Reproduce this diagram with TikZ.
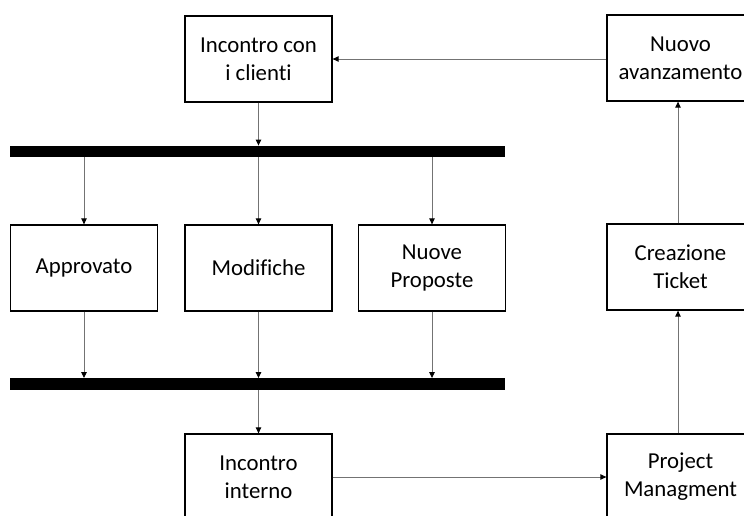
\documentclass[tikz,border=0pt]{standalone}
\usepackage{fontspec}
\setmainfont[Ligatures={NoCommon}]{Carlito}
\usetikzlibrary{arrows.meta}
\begin{document}
\begin{tikzpicture}[x=1pt,y=-1pt,
  box/.style={draw=black,line width=1.3pt,fill=white,minimum width=147pt,minimum height=86pt,
    align=center,inner sep=0pt,font=\fontsize{22.8}{28}\selectfont},
  bar/.style={fill=black,draw=none,minimum width=495pt,minimum height=11.5pt,inner sep=0pt},
  flow/.style={draw=black!55,line width=0.9pt,-{Triangle[length=6pt,width=5.5pt,fill=black,color=black]}}
]
\useasboundingbox (0,0) rectangle (744,515);
\clip (0,0) rectangle (744,515);

% meeting with the clients and the first sync bar
\node[box] (icc) at (258.5,59) {Incontro con\\i clienti};
\node[bar] (bar1) at (257.5,151.5) {};

% the three outcomes
\node[box] (appr) at (84,268) {Approvato};
\node[box] (modi) at (258.5,268) {Modifiche};
\node[box] (nuove) at (432,268) {Nuove\\Proposte};

% second sync bar
\node[bar] (bar2) at (257.5,384) {};

% internal follow-up
\node[box] (iint) at (258.5,477) {Incontro\\interno};
\node[box] (pm) at (680.5,477) {Project\\Managment};
\node[box] (ticket) at (680.5,267) {Creazione\\Ticket};
\node[box] (nuovo) at (680.5,58) {Nuovo\\avanzamento};

% connectors
\draw[flow] (icc.south) -- (icc.south |- bar1.north);
\draw[flow] (appr.north |- bar1.south) -- (appr.north);
\draw[flow] (modi.north |- bar1.south) -- (modi.north);
\draw[flow] (nuove.north |- bar1.south) -- (nuove.north);
\draw[flow] (appr.south) -- (appr.south |- bar2.north);
\draw[flow] (modi.south) -- (modi.south |- bar2.north);
\draw[flow] (nuove.south) -- (nuove.south |- bar2.north);
\draw[flow] (iint.north |- bar2.south) -- (iint.north);
\draw[flow] (iint.east) -- (pm.west);
\draw[flow] ([xshift=-2.5pt]pm.north) -- ([xshift=-2.5pt]ticket.south);
\draw[flow] ([xshift=-2.5pt]ticket.north) -- ([xshift=-2.5pt]nuovo.south);
\draw[flow] (nuovo.west |- icc.east) -- (icc.east);
\end{tikzpicture}
\end{document}
